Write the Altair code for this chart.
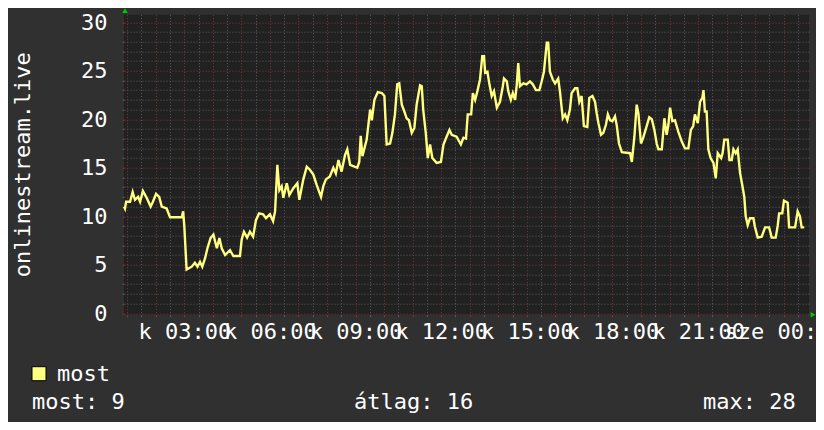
import json
import altair as alt
import pandas as pd

# ---- data ----
hours = [
    0.89, 0.92, 0.96, 1.10, 1.19, 1.27, 1.38, 1.45, 1.55, 1.68, 1.82, 1.90, 2.01, 2.12, 2.21, 2.38, 2.50, 2.91, 2.96, 3.00,
    3.08, 3.26, 3.37, 3.46, 3.55, 3.63, 3.73, 3.81, 3.92, 4.02, 4.08, 4.14, 4.23, 4.31, 4.43, 4.60, 4.72, 4.95, 5.01, 5.09,
    5.20, 5.30, 5.41, 5.51, 5.62, 5.76, 5.86, 6.00, 6.11, 6.18, 6.26, 6.33, 6.41, 6.47, 6.59, 6.68, 6.82, 6.96, 7.03, 7.17,
    7.29, 7.40, 7.52, 7.64, 7.79, 7.87, 7.96, 8.10, 8.22, 8.31, 8.40, 8.51, 8.63, 8.71, 8.81, 9.06, 9.13, 9.18, 9.24, 9.39,
    9.51, 9.57, 9.66, 9.78, 9.92, 10.01, 10.09, 10.21, 10.29, 10.38, 10.46, 10.53, 10.62, 10.71, 10.79, 10.87, 10.97, 11.06, 11.14, 11.26,
    11.32, 11.37, 11.46, 11.53, 11.61, 11.69, 11.84, 11.99, 12.08, 12.19, 12.29, 12.37, 12.54, 12.69, 12.78, 12.87, 12.93, 13.05, 13.11, 13.19,
    13.27, 13.36, 13.44, 13.50, 13.54, 13.62, 13.69, 13.77, 13.85, 13.95, 14.06, 14.16, 14.20, 14.30, 14.35, 14.44, 14.51, 14.59, 14.65, 14.70,
    14.76, 14.88, 14.99, 15.11, 15.21, 15.32, 15.44, 15.52, 15.60, 15.70, 15.75, 15.81, 15.91, 15.99, 16.10, 16.16, 16.26, 16.34, 16.42, 16.51,
    16.57, 16.69, 16.77, 16.84, 16.92, 17.00, 17.12, 17.19, 17.30, 17.39, 17.45, 17.51, 17.60, 17.68, 17.77, 17.84, 17.92, 18.00, 18.09, 18.15,
    18.23, 18.33, 18.62, 18.68, 18.77, 18.85, 18.91, 19.00, 19.08, 19.20, 19.29, 19.38, 19.47, 19.55, 19.61, 19.73, 19.82, 19.90, 19.96, 20.02,
    20.10, 20.19, 20.31, 20.43, 20.54, 20.66, 20.75, 20.83, 20.89, 20.99, 21.07, 21.15, 21.19, 21.24, 21.30, 21.36, 21.44, 21.54, 21.62, 21.69,
    21.81, 21.86, 21.92, 22.04, 22.10, 22.18, 22.24, 22.32, 22.39, 22.47, 22.55, 22.62, 22.67, 22.74, 22.82, 22.94, 22.99, 23.09, 23.23, 23.35,
    23.49, 23.58, 23.72, 23.79, 23.84, 23.95, 24.01, 24.14, 24.19, 24.40, 24.49, 24.57, 24.63, 24.72,
]
values = [
    11.0, 10.8, 11.5, 11.5, 12.5, 11.7, 12.0, 11.5, 12.6, 11.9, 11.0, 11.5, 12.3, 12.0, 11.0, 10.8, 9.9, 9.9, 10.5, 8.95,
    4.5, 4.8, 5.2, 4.8, 5.3, 4.8, 5.7, 6.7, 7.75, 8.1, 7.4, 6.7, 7.75, 6.7, 6.0, 6.5, 5.9, 5.9, 7.6, 8.4,
    7.8, 8.4, 7.9, 9.6, 10.3, 10.2, 9.8, 10.2, 9.5, 10.5, 15.3, 12.7, 13.1, 11.9, 13.4, 12.2, 12.9, 13.4, 11.7, 13.8,
    15.1, 14.8, 14.3, 13.2, 12.0, 13.1, 13.8, 14.1, 15.0, 14.4, 15.8, 14.6, 16.3, 16.9, 15.3, 15.0, 15.6, 18.3, 16.2, 17.9,
    21.0, 19.9, 22.0, 22.8, 22.7, 22.4, 17.4, 17.5, 18.6, 20.5, 23.6, 23.7, 21.5, 20.8, 20.1, 19.9, 18.6, 19.1, 21.5, 23.5,
    23.4, 21.0, 18.6, 16.0, 17.4, 16.0, 15.5, 15.6, 17.4, 18.2, 18.9, 18.4, 18.2, 17.4, 18.1, 18.0, 20.5, 20.5, 22.7, 22.0,
    22.9, 24.1, 26.5, 26.5, 24.8, 24.9, 23.6, 22.4, 22.9, 21.2, 21.8, 23.4, 24.2, 23.9, 22.9, 22.0, 22.7, 22.0, 23.6, 25.8,
    23.4, 23.7, 23.6, 23.9, 23.6, 23.0, 23.0, 23.9, 24.9, 27.9, 27.9, 24.9, 24.1, 23.7, 24.2, 22.9, 20.1, 20.5, 19.9, 21.0,
    22.7, 23.2, 23.2, 21.8, 22.4, 19.3, 19.2, 22.2, 22.4, 21.8, 20.6, 19.6, 18.4, 18.6, 19.4, 20.5, 19.9, 19.8, 20.3, 19.4,
    17.5, 16.6, 16.5, 15.6, 18.2, 21.5, 20.6, 17.5, 18.1, 19.3, 20.2, 20.0, 18.9, 17.5, 16.9, 16.9, 20.1, 18.4, 19.4, 21.2,
    19.8, 19.9, 18.7, 17.7, 17.0, 17.0, 18.9, 19.3, 20.5, 19.6, 21.8, 22.2, 23.0, 20.8, 20.8, 16.9, 16.0, 15.5, 13.9, 16.5,
    16.0, 16.5, 17.9, 17.9, 15.8, 15.8, 16.9, 16.5, 16.9, 14.5, 13.2, 12.0, 10.0, 9.1, 9.8, 9.8, 8.95, 7.8, 7.9, 8.85,
    8.85, 7.8, 7.8, 9.0, 10.3, 10.3, 11.6, 11.4, 8.85, 8.85, 10.5, 10.0, 8.85, 8.85,
]
tick_hours = [3, 6, 9, 12, 15, 18, 21, 24]
tick_labels = ["k 03:00", "k 06:00", "k 09:00", "k 12:00", "k 15:00", "k 18:00", "k 21:00", "sze 00:00"]
y_ticks = [0, 5, 10, 15, 20, 25, 30]
y_title = "onlinestream.live"
series_name = "most"
stats = ["most: 9", "átlag: 16", "max: 28"]

df = pd.DataFrame({"h": hours, "v": values})

FONT = "DejaVu Sans Mono"
FS = 22
LINE_COLOR = "#ffff80"
MINOR = "#5e5e5e"
MAJOR = "#843838"

xs = alt.Scale(domain=[0.887, 24.887], nice=False, zero=False)
ys = alt.Scale(domain=[-0.15, 30.78], nice=False, zero=False)

minor_x = [h + 0.5 for h in range(0, 25)]
major_x = list(range(1, 25))
minor_y = [i for i in range(0, 31) if i % 5]
major_y = list(range(0, 31, 5))


def grid_axis(vals, color, orient):
    return alt.Axis(values=vals, grid=True, gridColor=color, gridDash=[1, 2], gridWidth=1,
                    labels=False, domain=False, ticks=True, tickSize=2, tickColor=color,
                    title=None, orient=orient)


base = alt.Chart(df)

grid_minor = base.mark_line(opacity=0).encode(
    x=alt.X("h:Q", scale=xs, axis=grid_axis(minor_x, MINOR, "bottom")),
    y=alt.Y("v:Q", scale=ys, axis=grid_axis(minor_y, MINOR, "left")),
)
grid_major = base.mark_line(opacity=0).encode(
    x=alt.X("h:Q", scale=xs, axis=grid_axis(major_x, MAJOR, "bottom")),
    y=alt.Y("v:Q", scale=ys, axis=grid_axis(major_y, MAJOR, "left")),
)

label_expr = json.dumps(tick_labels) + "[round(datum.value / 3) - 1]"

line = base.mark_line(color=LINE_COLOR, strokeWidth=2.4).encode(
    x=alt.X("h:Q", scale=xs, axis=alt.Axis(
        values=tick_hours, labelExpr=label_expr, labelFont=FONT, labelFontSize=FS,
        labelColor="#ffffff", labelOverlap=False, labelFlush=False, labelBaseline="top",
        labelPadding=7, grid=False, domain=False, ticks=False, tickSize=0, title=None,
        orient="bottom")),
    y=alt.Y("v:Q", scale=ys, axis=alt.Axis(
        values=y_ticks, labelFont=FONT, labelFontSize=FS, labelColor="#ffffff",
        labelOverlap=False, labelFlush=False, labelPadding=17, grid=False, domain=False,
        ticks=False, tickSize=0, title=None, orient="left")),
)

one = pd.DataFrame({"k": [0]})

title_txt = alt.Chart(one).mark_text(
    text=y_title, font=FONT, fontSize=FS, color="#ffffff", angle=270,
    align="center", baseline="middle",
).encode(x=alt.value(-101), y=alt.value(150))

legend_box = alt.Chart(one).mark_square(
    size=196, color=LINE_COLOR, fill=LINE_COLOR, stroke="#000000", strokeWidth=1, opacity=1,
).encode(x=alt.value(-85), y=alt.value(359))

legend_txt = alt.Chart(one).mark_text(
    text=series_name, font=FONT, fontSize=FS, color="#ffffff", align="left", baseline="middle",
).encode(x=alt.value(-67), y=alt.value(359))

stat_layers = []
for txt, xpos in zip(stats, [-92, 230, 579]):
    stat_layers.append(
        alt.Chart(one).mark_text(
            text=txt, font=FONT, fontSize=FS, color="#ffffff", align="left", baseline="middle",
        ).encode(x=alt.value(xpos), y=alt.value(387))
    )

arrow_up = alt.Chart(one).mark_point(
    shape="triangle-up", filled=True, color="#00cc00", size=30, opacity=1,
).encode(x=alt.value(1), y=alt.value(-4))
arrow_right = alt.Chart(one).mark_point(
    shape="triangle-right", filled=True, color="#00cc00", size=30, opacity=1,
).encode(x=alt.value(689), y=alt.value(300))

chart = alt.layer(
    grid_minor, grid_major, line, title_txt, legend_box, legend_txt, *stat_layers,
    arrow_up, arrow_right,
).resolve_axis(x="independent", y="independent").properties(
    width=685, height=300,
    autosize=alt.AutoSizeParams(type="none"),
    padding={"left": 116, "top": 6.7, "right": 7, "bottom": 107},
    background="#303030",
).configure_view(fill="#212121", stroke=None)

chart.save("out.html", embed_options={"renderer": "svg", "actions": False})
